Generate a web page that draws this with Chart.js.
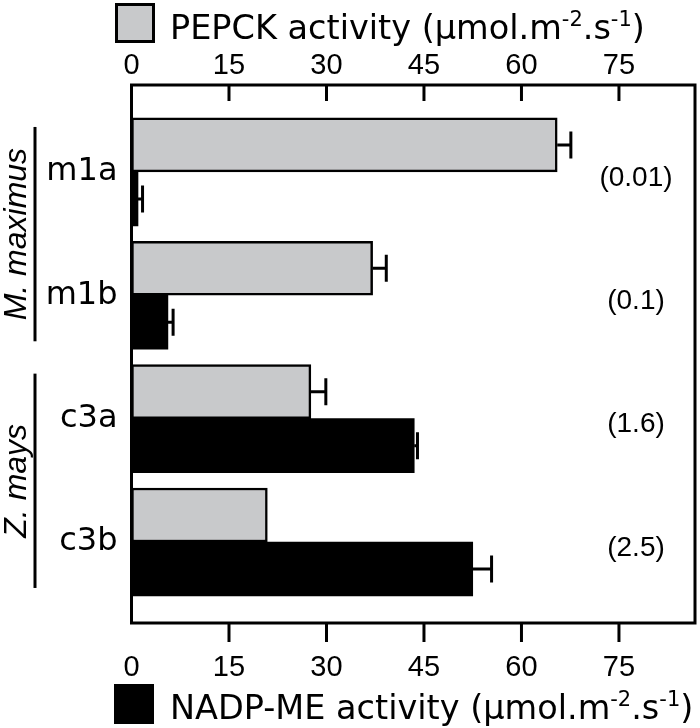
<!DOCTYPE html>
<html><head><meta charset="utf-8">
<script src="https://cdn.jsdelivr.net/npm/chart.js@4/dist/chart.umd.min.js"></script>
<style>html,body{margin:0;padding:0;background:#fff}#wrap{width:700px;height:728px}</style>
</head><body><div id="wrap"><canvas id="c" width="700" height="728"></canvas></div>
<script>
const categories = ['m1a', 'm1b', 'c3a', 'c3b'];
const pepckValues = [65.5, 37.1, 27.6, 20.9];
const pepckErrors = [2.1, 2.1, 2.3, 0];
const nadpValues = [1.0, 5.6, 43.5, 52.5];
const nadpErrors = [0.7, 0.8, 0.5, 2.9];
const ratioLabels = ['(0.01)', '(0.1)', '(1.6)', '(2.5)'];
const xTickValues = [0, 15, 30, 45, 60, 75];
const xMax = 86.7;
const groupNames = ['M. maximus', 'Z. mays'];
const groupFirst = [0, 2];
const groupLast = [1, 3];
const pepckTitle = [['PEPCK activity (µmol.m', false], ['-2', true], ['.s', false], ['-1', true], [')', false]];
const nadpTitle = [['NADP-ME activity (µmol.m', false], ['-2', true], ['.s', false], ['-1', true], [')', false]];

function drawRich(ctx, x, y, parts) {
  ctx.textAlign = 'left';
  ctx.textBaseline = 'alphabetic';
  let cx = x;
  parts.forEach(([t, sup]) => {
    ctx.font = sup ? '21px "DejaVu Sans"' : '33.5px "DejaVu Sans"';
    ctx.fillText(t, cx, sup ? y - 13 : y);
    cx += ctx.measureText(t).width;
  });
}

const annot = {
  id: 'annot',
  afterDatasetsDraw(chart) {
    const ctx = chart.ctx, a = chart.chartArea, ys = chart.scales.y;
    const errs = [pepckErrors, nadpErrors], vals = [pepckValues, nadpValues];
    ctx.save();
    ctx.strokeStyle = '#000';
    ctx.lineWidth = 3;
    chart.data.datasets.forEach((ds, di) => {
      const meta = chart.getDatasetMeta(di);
      const xs = chart.scales[ds.xAxisID];
      meta.data.forEach((el, i) => {
        const e = errs[di][i];
        if (!e) return;
        const x0 = el.x, x1 = xs.getPixelForValue(vals[di][i] + e), y = el.y;
        ctx.beginPath();
        ctx.moveTo(x0, y); ctx.lineTo(x1, y);
        ctx.moveTo(x1, y - 13.5); ctx.lineTo(x1, y + 13.5);
        ctx.stroke();
      });
    });
    // frame
    ctx.strokeRect(a.left, a.top, a.right - a.left, a.bottom - a.top);
    // tick marks
    const xt = chart.scales.xTop, xb = chart.scales.x;
    xTickValues.forEach(v => {
      if (v === 0) return;
      let px = xt.getPixelForValue(v);
      ctx.beginPath(); ctx.moveTo(px, a.top); ctx.lineTo(px, a.top + 16); ctx.stroke();
      px = xb.getPixelForValue(v);
      ctx.beginPath(); ctx.moveTo(px, a.bottom); ctx.lineTo(px, a.bottom + 19); ctx.stroke();
    });
    // ratio labels
    ctx.fillStyle = '#000';
    ctx.font = '28px "Liberation Sans"';
    ctx.textAlign = 'center';
    ctx.textBaseline = 'middle';
    ratioLabels.forEach((t, i) => ctx.fillText(t, 636, ys.getPixelForValue(i) + 6));
    // group labels and lines
    groupNames.forEach((g, k) => {
      const y0 = ys.getPixelForValue(groupFirst[k]) - 45;
      const y1 = ys.getPixelForValue(groupLast[k]) + 46;
      ctx.beginPath(); ctx.moveTo(35, y0); ctx.lineTo(35, y1); ctx.stroke();
      ctx.save();
      ctx.translate(17, (y0 + y1) / 2);
      ctx.rotate(-Math.PI / 2);
      ctx.font = 'italic 32px "Liberation Sans"';
      ctx.textAlign = 'center';
      ctx.textBaseline = 'middle';
      ctx.fillText(g, 0, 0);
      ctx.restore();
    });
    // legends
    ctx.fillStyle = '#c8c9cb';
    ctx.fillRect(116.5, 4.5, 37, 37);
    ctx.strokeRect(116.5, 4.5, 37, 37);
    ctx.fillStyle = '#000';
    drawRich(ctx, 170, 39, pepckTitle);
    ctx.fillRect(114, 684, 40, 40);
    drawRich(ctx, 170, 719, nadpTitle);
    ctx.restore();
  }
};

new Chart(document.getElementById('c'), {
  type: 'bar',
  data: {
    datasets: [
      { label: 'PEPCK', data: pepckValues.map((v, i) => ({ x: v, y: i })), xAxisID: 'xTop', yAxisID: 'y',
        backgroundColor: '#c8c9cb', borderColor: '#000', borderWidth: 2.5, borderSkipped: false, barThickness: 54 },
      { label: 'NADP-ME', data: nadpValues.map((v, i) => ({ x: v, y: i })), xAxisID: 'x', yAxisID: 'y',
        backgroundColor: '#000', borderWidth: 0, barThickness: 54 }
    ]
  },
  options: {
    indexAxis: 'y', responsive: false, animation: false,
    layout: { padding: { left: 0, right: 5, top: 0, bottom: 0 } },
    plugins: { legend: { display: false }, tooltip: { enabled: false } },
    scales: {
      y: {
        type: 'linear', reverse: true, min: -0.705, max: 3.657, position: 'left', offset: false,
        grid: { display: false, offset: false }, border: { display: false },
        afterBuildTicks: s => { s.ticks = categories.map((c, i) => ({ value: i })); },
        ticks: { callback: v => categories[v], font: { family: 'DejaVu Sans', size: 32 }, color: '#000', padding: 6 },
        afterFit: s => { s.width = 131.5; }
      },
      x: {
        type: 'linear', position: 'bottom', min: 0, max: xMax,
        grid: { display: false }, border: { display: false },
        afterBuildTicks: s => { s.ticks = xTickValues.map(v => ({ value: v })); },
        ticks: { font: { family: 'Liberation Sans', size: 29 }, color: '#000', padding: 20, maxRotation: 0 },
        afterFit: s => { s.height = 105; }
      },
      xTop: {
        type: 'linear', position: 'top', min: 0, max: xMax,
        grid: { display: false }, border: { display: false },
        afterBuildTicks: s => { s.ticks = xTickValues.map(v => ({ value: v })); },
        ticks: { font: { family: 'Liberation Sans', size: 29 }, color: '#000', padding: -6, maxRotation: 0 },
        afterFit: s => { s.height = 85; }
      }
    }
  },
  plugins: [annot]
});
</script>
</body></html>
